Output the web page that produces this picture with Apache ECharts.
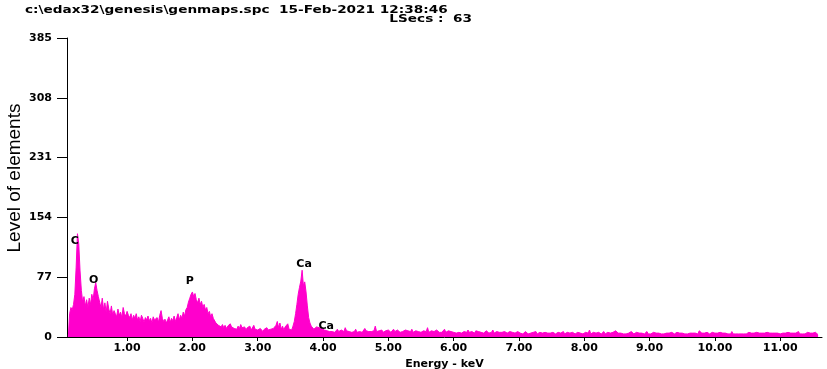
<!DOCTYPE html>
<html>
<head>
<meta charset="utf-8">
<script src="https://cdn.jsdelivr.net/npm/echarts@6/dist/echarts.min.js"></script>
<style>html,body{margin:0;padding:0;background:#fff;overflow:hidden}#c{width:827px;height:369px}</style>
</head>
<body>
<div id="c"></div>
<script>
// Spectrum channels: first channel energy (keV) and channel width (keV)
const CHANNEL_START = 0.10;
const CHANNEL_STEP = 0.02;

// Counts per channel, grouped by energy range
const counts_0_1 = [0,30,38,35,42,55,90,133,120,85,60,45,52,40,48,38,50,42,55,48,62,70,60,52,45,38,50,35,44,32,46,36,30,40,28,34,30,26,36,28,32,25,38,30,27];           // 0.10 - 0.98
const counts_1_2 = [33,28,25,30,22,28,24,30,22,26,20,28,24,19,25,22,27,21,24,18,26,22,20,25,19,28,34,24,20,23,18,22,26,19,24,21,27,20,25,30,22,28,24,32,27,35,38,45,50,55]; // 1.00 - 1.98
const counts_2_3 = [58,52,56,48,44,50,42,46,38,42,35,38,30,33,26,30,24,22,18,20,15,17,13,16,12,15,11,14,12,17,13,15,11,13,10,14,11,16,12,10,13,9,12,10,14,9,11,15,10,12];    // 2.00 - 2.98
const counts_3_4 = [9,8,11,9,7,10,8,12,9,7,10,8,11,9,15,20,12,18,10,14,9,13,11,17,10,12,9,14,20,30,42,55,64,72,86,66,71,58,40,25,18,14,12,10,9,13,15,12,14,11];              // 3.00 - 3.98
const counts_4_5 = [13,9,10,8,9,7,8,7,9,6,8,10,7,6,9,8,7,12,8,6,7,9,6,8,7,10,6,8,7,9,6,7,11,8,6,7,9,7,6,8,14,7,6,8,7,9,6,7,8,6];                                             // 4.00 - 4.98
const counts_5_6 = [9,7,6,8,10,7,6,9,7,6,8,7,6,9,7,8,6,7,10,6,7,8,6,7,9,6,7,8,6,7,12,6,7,8,6,7,6,9,7,6,8,6,7,10,6,7,8,6,7,9];                                                 // 5.00 - 5.98
const counts_6_7 = [6,6,5,7,6,8,5,6,7,5,6,9,6,5,7,6,5,8,6,7,5,6,7,5,6,8,6,5,7,6,9,5,6,7,5,6,8,6,5,7,6,5,6,7,5,6,8,5,6,7];                                                     // 6.00 - 6.98
const counts_7_8 = [5,5,6,4,5,7,5,4,6,5,4,6,5,7,4,5,6,4,5,5,6,4,5,7,5,4,6,5,4,5,6,4,5,5,7,4,5,6,4,5,4,6,5,4,5,6,4,5,7,4];                                                     // 7.00 - 7.98
const counts_8_9 = [5,6,4,5,9,4,5,6,4,5,4,6,5,4,5,7,4,5,6,4,5,4,6,5,8,6,5,4,5,6,4,5,4,6,5,4,7,5,4,5,6,4,5,4,5,6,4,5,7,4];                                                     // 8.00 - 8.98
const counts_9_10 = [5,4,5,6,4,5,4,5,6,4,5,4,6,5,4,5,4,6,5,4,5,6,4,5,4,5,6,4,5,4,6,5,4,5,7,5,6,4,8,6,5,7,5,4,6,5,4,5,6,4];                                                    // 9.00 - 9.98
const counts_10_11 = [5,4,5,4,6,4,5,4,5,6,4,5,4,7,4,5,4,5,4,6,4,5,4,5,4,5,6,4,5,4,5,4,6,4,5,4,5,4,5,4,6,4,5,4,5,4,5,4,5,7];                                                  // 10.00 - 10.98
const counts_11_up = [4,4,5,4,5,4,6,4,5,4,5,4,5,4,7,4,5,4,5,4,5,6,4,5,4,5,4,6,4,3];                                                                                            // 11.00 - 11.58

// Axis ticks
const xTicks = [1,2,3,4,5,6,7,8,9,10,11];
const yMax = 385, yStep = 77;

// Peak labels
const peakNames = ['C','O','P','Ca','Ca'];
const peakLabelEnergy = [0.20, 0.49, 1.96, 3.71, 4.05];
const peakLabelCount = [123, 73, 72, 94, 14];

// Header texts
const headerLine1 = 'c:\\edax32\\genesis\\genmaps.spc  15-Feb-2021 12:38:46';
const headerLine2 = 'LSecs :  63';

const allCounts = [].concat(counts_0_1, counts_1_2, counts_2_3, counts_3_4, counts_4_5, counts_5_6,
  counts_6_7, counts_7_8, counts_8_9, counts_9_10, counts_10_11, counts_11_up);
const seriesData = allCounts.map((c, i) => [+(CHANNEL_START + i * CHANNEL_STEP).toFixed(3), c]);

const FONT = 'DejaVu Sans';
const chart = echarts.init(document.getElementById('c'), null, {renderer: 'canvas'});
chart.setOption({
  animation: false,
  backgroundColor: '#ffffff',
  graphic: [
    {type: 'text', x: 25, y: 10, scaleX: 1.24,
     style: {text: headerLine1, fontFamily: FONT, fontWeight: 'bold', fontSize: 11, fill: '#000',
             align: 'left', verticalAlign: 'middle'}},
    {type: 'text', x: 472, y: 19, scaleX: 1.24,
     style: {text: headerLine2, fontFamily: FONT, fontWeight: 'bold', fontSize: 11, fill: '#000',
             align: 'right', verticalAlign: 'middle'}},
    {type: 'text', x: 15, y: 178, rotation: Math.PI / 2,
     style: {text: 'Level of elements', fontFamily: 'Liberation Sans', fontSize: 19, fill: '#000',
             align: 'center', verticalAlign: 'middle'}}
  ],
  grid: {left: 67, right: 5, top: 38, height: 299, containLabel: false, outerBoundsMode: 'none'},
  xAxis: {
    type: 'value', min: 0.08, max: 11.64,
    name: 'Energy - keV', nameLocation: 'middle', nameGap: 18,
    nameTextStyle: {fontFamily: FONT, fontWeight: 'bold', fontSize: 11, color: '#000'},
    axisLine: {show: true, lineStyle: {color: '#000', width: 1}},
    axisTick: {show: true, length: 4, lineStyle: {color: '#000'}, customValues: xTicks},
    axisLabel: {customValues: xTicks, formatter: v => v.toFixed(2), margin: 6,
                fontFamily: FONT, fontWeight: 'bold', fontSize: 11, color: '#000'},
    splitLine: {show: false}
  },
  yAxis: {
    type: 'value', min: 0, max: yMax, interval: yStep,
    axisLine: {show: true, lineStyle: {color: '#000', width: 1}},
    axisTick: {show: true, length: 10, lineStyle: {color: '#000'}},
    axisLabel: {margin: 15, fontFamily: FONT, fontWeight: 'bold', fontSize: 11, color: '#000'},
    splitLine: {show: false}
  },
  series: [{
    type: 'line',
    data: seriesData,
    showSymbol: false,
    symbol: 'none',
    lineStyle: {color: '#ff00cc', width: 1},
    areaStyle: {color: '#ff00cc', opacity: 1},
    markPoint: {
      symbol: 'circle', symbolSize: 1,
      itemStyle: {color: 'rgba(0,0,0,0)'},
      label: {show: true, position: 'inside', formatter: '{b}', color: '#000',
              fontFamily: FONT, fontWeight: 'bold', fontSize: 11},
      data: peakNames.map((n, i) => ({name: n, coord: [peakLabelEnergy[i], peakLabelCount[i]]}))
    }
  }]
});
</script>
</body>
</html>
